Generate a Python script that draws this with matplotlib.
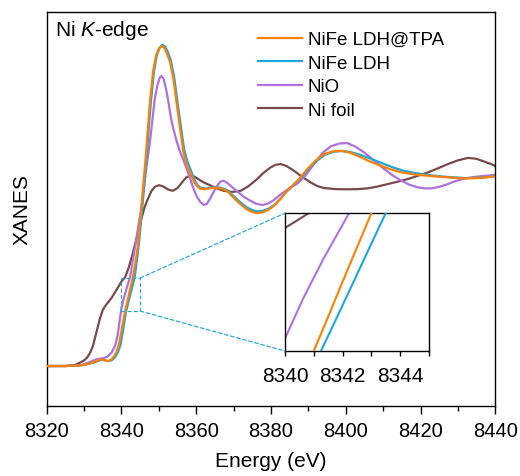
import numpy as np
import matplotlib
matplotlib.use("Agg")
import matplotlib.pyplot as plt
from matplotlib.ticker import MultipleLocator
from matplotlib.patches import Rectangle, ConnectionPatch

plt.rcParams['font.family'] = ['Liberation Sans', 'DejaVu Sans']
plt.rcParams['mathtext.fontset'] = 'custom'
plt.rcParams['mathtext.rm'] = 'Liberation Sans'
plt.rcParams['mathtext.it'] = 'Liberation Sans:italic'

# (energy eV, normalised absorption)
tpa_pts = [(8320, 0), (8325, 0), (8328, 0.002), (8330, 0.006), (8332, 0.016), (8333.5, 0.028),
           (8334.6, 0.036), (8335.5, 0.031), (8336.3, 0.027), (8337.2, 0.033), (8338.0, 0.05),
           (8338.8, 0.08), (8339.5, 0.13), (8340.2, 0.21), (8341.0, 0.294), (8341.5, 0.338),
           (8342.0, 0.383), (8342.5, 0.427), (8343.0, 0.471), (8343.7, 0.55), (8344.4, 0.643),
           (8345.3, 0.84), (8345.8, 0.96), (8346.2, 1.05), (8346.7, 1.17), (8347.1, 1.28),
           (8347.7, 1.43), (8348.5, 1.58), (8349.3, 1.665), (8350.1, 1.70), (8350.8, 1.712),
           (8351.5, 1.70), (8352.2, 1.67), (8353.0, 1.626), (8353.9, 1.535), (8354.8, 1.40),
           (8355.7, 1.267), (8356.6, 1.14), (8357.5, 1.07), (8358.4, 1.035), (8359.3, 0.99),
           (8360.2, 0.962), (8361.1, 0.948), (8362.4, 0.946), (8363.8, 0.951), (8365.3, 0.955),
           (8366.8, 0.948), (8368.2, 0.937), (8370.0, 0.90), (8371.8, 0.866), (8373.5, 0.838),
           (8375.0, 0.823), (8376.3, 0.818), (8377.8, 0.822), (8379.3, 0.835), (8380.8, 0.857),
           (8382.5, 0.893), (8384.0, 0.93), (8385.5, 0.96), (8387.5, 1.0), (8389.7, 1.053),
           (8392.0, 1.10), (8394.2, 1.134), (8396.5, 1.148), (8398.7, 1.151), (8401.0, 1.142),
           (8403.1, 1.125), (8406.0, 1.098), (8409.4, 1.071), (8412.0, 1.052), (8414.8, 1.036),
           (8417.5, 1.027), (8420.1, 1.021), (8424.0, 1.014), (8427.3, 1.009), (8431.7, 1.003),
           (8436.0, 1.006), (8440.0, 1.014)]

ldh_pts = [(8320, 0), (8325, 0), (8328, 0.002), (8330, 0.006), (8332, 0.015), (8333.6, 0.026),
           (8334.8, 0.034), (8335.7, 0.029), (8336.5, 0.026), (8337.4, 0.031), (8338.3, 0.047),
           (8339.1, 0.075), (8339.8, 0.118), (8340.5, 0.2), (8341.25, 0.294), (8341.8, 0.337),
           (8342.37, 0.382), (8343.0, 0.432), (8343.5, 0.471), (8344.1, 0.56), (8344.7, 0.66),
           (8345.5, 0.83), (8346.0, 0.95), (8346.4, 1.04), (8346.9, 1.16), (8347.3, 1.27),
           (8347.9, 1.42), (8348.7, 1.575), (8349.5, 1.665), (8350.3, 1.705), (8351.0, 1.718),
           (8351.7, 1.707), (8352.4, 1.68), (8353.2, 1.635), (8354.1, 1.545), (8355.0, 1.41),
           (8355.9, 1.28), (8356.8, 1.155), (8357.7, 1.09), (8358.6, 1.045), (8359.5, 0.997),
           (8360.4, 0.965), (8361.3, 0.952), (8362.6, 0.95), (8364.0, 0.956), (8365.5, 0.958),
           (8367.0, 0.951), (8368.4, 0.94), (8370.2, 0.905), (8372.0, 0.872), (8373.7, 0.846),
           (8375.2, 0.832), (8376.5, 0.827), (8378.0, 0.831), (8379.5, 0.843), (8381.0, 0.863),
           (8382.7, 0.898), (8384.2, 0.933), (8385.7, 0.962), (8387.7, 1.0), (8390.0, 1.053),
           (8392.3, 1.098), (8394.5, 1.131), (8396.8, 1.146), (8399.0, 1.15), (8401.3, 1.144),
           (8403.5, 1.132), (8406.5, 1.11), (8409.8, 1.084), (8412.5, 1.063), (8415.2, 1.046),
           (8418.0, 1.034), (8420.5, 1.026), (8424.0, 1.017), (8427.5, 1.011), (8432.0, 1.005),
           (8436.0, 1.007), (8440.0, 1.015)]

nio_pts = [(8320, 0), (8325, 0), (8328, 0.002), (8329.5, 0.006), (8331, 0.016), (8332.3, 0.028),
           (8333.4, 0.036), (8334.5, 0.040), (8335.5, 0.043), (8336.5, 0.054), (8337.4, 0.073),
           (8338.3, 0.108), (8339.0, 0.165), (8339.5, 0.24), (8340.0, 0.31), (8340.64, 0.362),
           (8341.33, 0.412), (8341.8, 0.443), (8342.3, 0.476), (8343.0, 0.56), (8343.5, 0.62),
           (8344.0, 0.68), (8344.6, 0.76), (8345.3, 0.84), (8345.9, 0.93), (8346.4, 1.018),
           (8347.0, 1.11), (8347.6, 1.196), (8348.3, 1.32), (8348.9, 1.428), (8349.6, 1.50),
           (8350.2, 1.54), (8350.7, 1.552), (8351.3, 1.535), (8352.0, 1.475), (8352.7, 1.395),
           (8353.3, 1.32), (8353.9, 1.267), (8354.8, 1.20), (8355.7, 1.144), (8356.6, 1.10),
           (8357.5, 1.053), (8358.4, 1.0), (8359.3, 0.947), (8360.2, 0.905), (8361.1, 0.877),
           (8362.0, 0.862), (8362.8, 0.866), (8363.7, 0.895), (8364.6, 0.929), (8365.6, 0.965),
           (8366.5, 0.987), (8367.3, 0.991), (8368.2, 0.981), (8369.1, 0.965), (8370.9, 0.935),
           (8372.7, 0.905), (8374.5, 0.884), (8376.0, 0.868), (8377.6, 0.861), (8379.0, 0.867),
           (8380.8, 0.888), (8382.6, 0.918), (8385.0, 0.952), (8387.0, 0.975), (8389.3, 1.02),
           (8391.5, 1.08), (8393.8, 1.14), (8396.0, 1.175), (8398.3, 1.19), (8400.5, 1.192),
           (8402.7, 1.172), (8404.9, 1.143), (8407.5, 1.10), (8410.3, 1.053), (8412.5, 1.02),
           (8414.8, 0.992), (8417.0, 0.97), (8419.2, 0.956), (8421.0, 0.95), (8422.8, 0.95),
           (8425.0, 0.958), (8427.3, 0.973), (8429.5, 0.99), (8431.8, 1.003), (8434.0, 1.01),
           (8437.0, 1.017), (8440.0, 1.022)]

foil_pts = [(8320, 0), (8325, 0), (8327.5, 0.005), (8328.9, 0.018), (8330.0, 0.03), (8330.8, 0.045),
            (8331.6, 0.07), (8332.4, 0.109), (8333.3, 0.18), (8334.2, 0.251), (8335.0, 0.30),
            (8335.8, 0.325), (8336.6, 0.345), (8337.4, 0.366), (8338.3, 0.395), (8339.2, 0.425),
            (8340.0, 0.452), (8341.0, 0.475), (8342.0, 0.53), (8343.0, 0.60), (8344.0, 0.68),
            (8345.3, 0.786), (8346.2, 0.85), (8347.1, 0.895), (8348.0, 0.935), (8348.9, 0.958),
            (8350.0, 0.967), (8351.1, 0.961), (8352.4, 0.945), (8353.7, 0.937), (8355.0, 0.952),
            (8356.2, 0.982), (8357.3, 1.008), (8358.5, 1.02), (8359.6, 1.012), (8360.8, 0.996),
            (8362.4, 0.978), (8363.8, 0.966), (8365.2, 0.953), (8367.3, 0.937), (8369.5, 0.931),
            (8371.8, 0.936), (8374.0, 0.962), (8376.3, 1.0), (8378.1, 1.035), (8379.9, 1.062),
            (8381.2, 1.076), (8382.6, 1.08), (8384.2, 1.069), (8386.1, 1.045), (8388.3, 1.012),
            (8390.6, 0.982), (8392.4, 0.962), (8394.2, 0.952), (8397.3, 0.946), (8400.5, 0.945),
            (8403.0, 0.946), (8405.8, 0.95), (8408.5, 0.96), (8411.2, 0.973), (8413.9, 0.986),
            (8416.6, 1.0), (8419.2, 1.017), (8421.9, 1.035), (8424.6, 1.057), (8427.3, 1.08),
            (8430.0, 1.1), (8432.7, 1.113), (8435.0, 1.108), (8437.1, 1.093), (8439.0, 1.079),
            (8440.0, 1.07)]

labels = ['NiFe LDH@TPA', 'NiFe LDH', 'NiO', 'Ni foil']
colors = ['#ff7f00', '#1ba8e0', '#b070e0', '#7a4a4a']
series = [tpa_pts, ldh_pts, nio_pts, foil_pts]

zoom_x = (8340, 8345)
zoom_y = (0.294, 0.471)
box_col = '#29abe2'

fig = plt.figure(figsize=(5.2, 4.77), dpi=100)
ax = fig.add_axes([0.0898, 0.1461, 0.8627, 0.8273])

handles = []
for pts, lab, c, z in zip(series, labels, colors, [4, 3, 2, 1]):
    e, y = np.array(pts).T
    h, = ax.plot(e, y, color=c, lw=1.6, label=lab, zorder=z)
    handles.append(h)

ax.set_xlim(8320, 8440)
ax.set_ylim(-0.2155, 1.895)
ax.xaxis.set_major_locator(MultipleLocator(20))
ax.xaxis.set_minor_locator(MultipleLocator(10))
ax.tick_params(axis='x', which='major', direction='out', length=5.5, width=1, labelsize=14.5, pad=5)
ax.tick_params(axis='x', which='minor', direction='out', length=3.5, width=1)
ax.set_yticks([])
for s in ax.spines.values():
    s.set_linewidth(1.0)
ax.set_xlabel('Energy (eV)', fontsize=15, labelpad=8)
ax.set_ylabel('XANES', fontsize=15, labelpad=11)

ax.text(0.018, 0.985, 'Ni $\\mathit{K}$-edge', transform=ax.transAxes, fontsize=15,
        va='top', ha='left')

ax.legend(handles=handles, loc='upper left', bbox_to_anchor=(0.471, 0.951), frameon=False,
          fontsize=13.5, handlelength=2.35, handletextpad=0.3, labelspacing=0.34,
          borderpad=0, borderaxespad=0)

# zoom box and inset
ax.add_patch(Rectangle((zoom_x[0], zoom_y[0]), zoom_x[1] - zoom_x[0], zoom_y[1] - zoom_y[0],
                       fill=False, ec=box_col, lw=0.9, ls=(0, (3, 2)), zorder=5))

ins = fig.add_axes([0.548, 0.262, 0.277, 0.289])
for pts, c, z in zip(series, colors, [4, 3, 2, 1]):
    e, y = np.array(pts).T
    ins.plot(e, y, color=c, lw=1.5, zorder=z)
ins.set_xlim(*zoom_x)
ins.set_ylim(*zoom_y)
ins.xaxis.set_major_locator(MultipleLocator(2))
ins.xaxis.set_minor_locator(MultipleLocator(1))
ins.tick_params(axis='x', which='both', direction='out', length=3.5, width=1, labelsize=15, pad=7)
ins.set_yticks([])
for s in ins.spines.values():
    s.set_linewidth(1.0)

for yd, ya in [(zoom_y[1], 1), (zoom_y[0], 0)]:
    con = ConnectionPatch(xyA=(zoom_x[1], yd), coordsA=ax.transData,
                          xyB=(0, ya), coordsB=ins.transAxes,
                          color=box_col, lw=0.9, ls=(0, (3, 2)))
    fig.add_artist(con)

fig.savefig('out.png', dpi=100)
